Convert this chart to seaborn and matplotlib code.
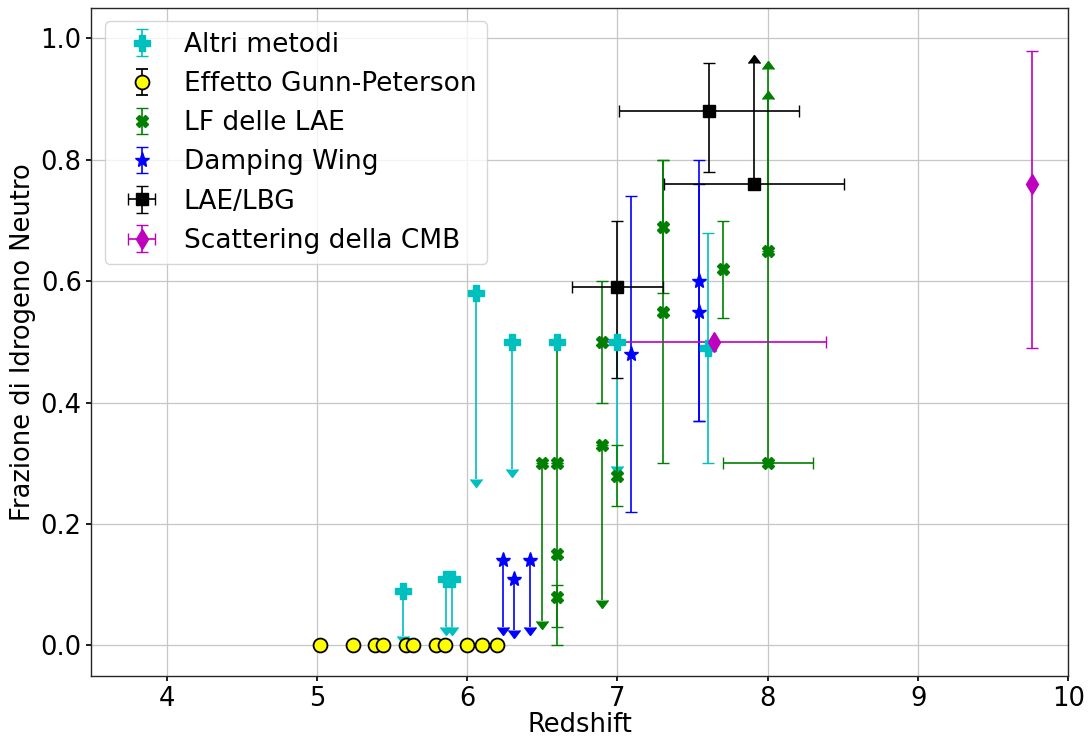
import numpy as np
import matplotlib
matplotlib.use("Agg")
import matplotlib.pyplot as plt
import seaborn as sns

# --- data ---
# Altri metodi (mostly upper limits)
altri_z = [5.57, 5.86, 5.90, 6.06, 6.30, 6.60, 7.00, 7.60]
altri_x = [0.09, 0.11, 0.11, 0.58, 0.50, 0.50, 0.50, 0.49]
altri_lo = [0.075, 0.08, 0.08, 0.305, 0.21, 0.0, 0.205, 0.19]
altri_hi = [0.0, 0.0, 0.0, 0.0, 0.0, 0.0, 0.0, 0.19]
altri_up = [True, True, True, True, True, False, True, False]

# Effetto Gunn-Peterson
gp_z = [5.02, 5.24, 5.39, 5.44, 5.59, 5.64, 5.79, 5.85, 6.0, 6.10, 6.20]
gp_x = [0.0] * len(gp_z)

# LF delle LAE
lf_z = [6.50, 6.60, 6.60, 6.60, 6.90, 6.90, 7.00, 7.30, 7.30, 7.70, 8.00]
lf_x = [0.30, 0.30, 0.15, 0.08, 0.50, 0.33, 0.28, 0.69, 0.55, 0.62, 0.65]
lf_lo = [0.26, 0.0, 0.15, 0.05, 0.10, 0.255, 0.05, 0.11, 0.25, 0.08, 0.0]
lf_hi = [0.0, 0.20, 0.15, 0.02, 0.10, 0.0, 0.05, 0.11, 0.25, 0.08, 0.30]
lf_up = [True, False, False, False, False, True, False, False, False, False, False]
lf_low = [False] * 10 + [True]
# LF point with horizontal error (lower limit)
lf2_z, lf2_x, lf2_zerr, lf2_hi = [8.00], [0.30], [0.30], [0.60]

# Damping Wing
dw_z = [6.24, 6.31, 6.42, 7.09, 7.54, 7.54]
dw_x = [0.14, 0.11, 0.14, 0.48, 0.60, 0.55]
dw_lo = [0.11, 0.085, 0.11, 0.26, 0.23, 0.18]
dw_hi = [0.0, 0.0, 0.0, 0.26, 0.20, 0.21]
dw_up = [True, True, True, False, False, False]

# LAE/LBG
lbg_z = [7.00, 7.61, 7.91]
lbg_x = [0.59, 0.88, 0.76]
lbg_zerr = [0.30, 0.60, 0.60]
lbg_lo = [0.15, 0.10, 0.0]
lbg_hi = [0.11, 0.08, 0.20]
lbg_low = [False, False, True]

# Scattering della CMB
cmb_z = [7.64, 9.76]
cmb_x = [0.50, 0.76]
cmb_zerr = [0.75, 0.0]
cmb_lo = [0.0, 0.27]
cmb_hi = [0.0, 0.22]

C_CYAN, C_GREEN, C_BLUE, C_MAG = "#00bfbf", "#008000", "#0000ff", "#bf00bf"

sns.set_theme(style="whitegrid", color_codes=False, rc={
    "axes.edgecolor": "0.15",
    "axes.linewidth": 1.0,
    "grid.color": "0.78",
    "grid.linewidth": 0.9,
    "xtick.bottom": True,
    "ytick.left": True,
    "xtick.major.size": 3.5,
    "ytick.major.size": 3.5,
    "xtick.color": "black",
    "ytick.color": "black",
    "text.color": "black",
    "axes.labelcolor": "black",
})
plt.rcParams["font.family"] = ["DejaVu Sans"]

fig, ax = plt.subplots(figsize=(10.88, 7.37), dpi=100)
fig.subplots_adjust(left=0.084, right=0.982, bottom=0.083, top=0.989)

cs = 4
ax.errorbar(altri_z, altri_x, yerr=[altri_lo, altri_hi], uplims=altri_up,
            fmt="P", color=C_CYAN, ms=11, capsize=cs, elinewidth=1.2,
            label="Altri metodi")
ax.errorbar(gp_z, gp_x, yerr=[gp_x, gp_x], fmt="o", mfc="yellow", mec="k",
            mew=1.3, ecolor="k", ms=10, capsize=cs, elinewidth=1.2,
            label="Effetto Gunn-Peterson")
ax.errorbar(lf_z, lf_x, yerr=[lf_lo, lf_hi], uplims=lf_up, lolims=lf_low,
            fmt="X", color=C_GREEN, ms=8.5, capsize=cs, elinewidth=1.2,
            label="LF delle LAE")
ax.errorbar(lf2_z, lf2_x, xerr=lf2_zerr, yerr=[[0.0], lf2_hi], lolims=True,
            fmt="X", color=C_GREEN, ms=8.5, capsize=cs, elinewidth=1.2)
ax.errorbar(dw_z, dw_x, yerr=[dw_lo, dw_hi], uplims=dw_up,
            fmt="*", color=C_BLUE, ms=11, capsize=cs, elinewidth=1.2,
            label="Damping Wing")
ax.errorbar(lbg_z, lbg_x, xerr=lbg_zerr, yerr=[lbg_lo, lbg_hi], lolims=lbg_low,
            fmt="s", color="k", ms=9, capsize=cs, elinewidth=1.2,
            label="LAE/LBG")
ax.errorbar(cmb_z, cmb_x, xerr=cmb_zerr, yerr=[cmb_lo, cmb_hi],
            fmt="d", color=C_MAG, ms=10, capsize=cs, elinewidth=1.2,
            label="Scattering della CMB")

ax.set_xlim(3.5, 10)
ax.set_ylim(-0.05, 1.05)
ax.set_xticks([4, 5, 6, 7, 8, 9, 10])
ax.set_yticks([0.0, 0.2, 0.4, 0.6, 0.8, 1.0])
ax.tick_params(labelsize=18.5)
ax.set_xlabel("Redshift", fontsize=18.5, labelpad=0)
ax.set_ylabel("Frazione di Idrogeno Neutro", fontsize=18.5, labelpad=3)
ax.legend(loc="upper left", fontsize=19, frameon=True, framealpha=0.8,
          edgecolor="0.8", fancybox=True, handletextpad=0.6,
          labelspacing=0.5)

fig.savefig("out.png", dpi=100)
